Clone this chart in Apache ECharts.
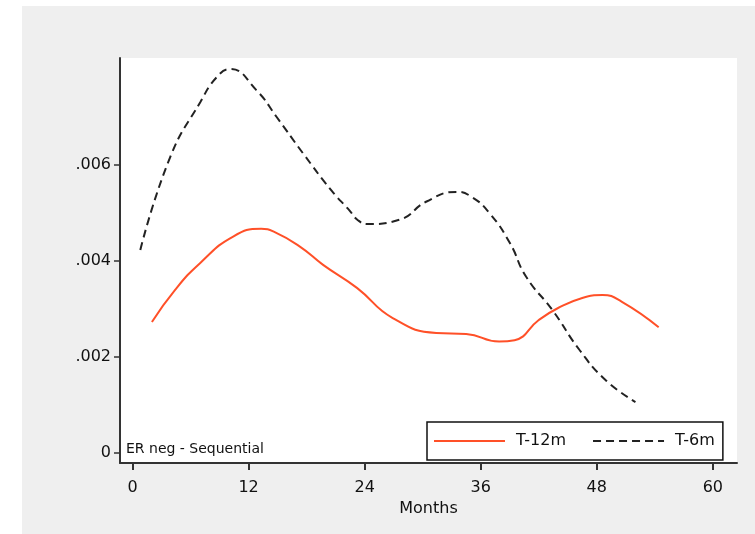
<!DOCTYPE html>
<html>
<head>
<meta charset="utf-8">
<script src="https://cdn.jsdelivr.net/npm/echarts@6/dist/echarts.min.js"></script>
<style>
html,body{margin:0;padding:0;background:#ffffff;}
#c{position:absolute;left:22px;top:6px;width:733px;height:528px;}
</style>
</head>
<body>
<div id="c"></div>
<script>
// Data
const monthsT12 = [2.0, 4.4, 7.0, 10.4, 13.3, 14.6, 17.3, 19.7, 23.2, 26.9, 31.4, 34.5, 37.9, 39.5, 42.0, 44.0, 46.5, 48.6, 50.6, 54.4];
const valuesT12 = [0.00273, 0.0034, 0.00396, 0.00451, 0.00467, 0.00461, 0.0043, 0.00392, 0.00344, 0.00281, 0.0025, 0.00248, 0.00232, 0.00235, 0.00277, 0.00302, 0.00323, 0.00329, 0.00315, 0.00262];
const monthsT6 = [0.8, 3.9, 7.0, 8.7, 10.1, 12.8, 14.9, 17.6, 20.6, 22.4, 23.3, 24.3, 27.6, 30.4, 33.5, 35.1, 36.9, 39.0, 40.7, 43.4, 46.2, 48.9, 52.0];
const valuesT6 = [0.00423, 0.00617, 0.00731, 0.00783, 0.008, 0.00756, 0.007, 0.00625, 0.00546, 0.00506, 0.00485, 0.00477, 0.00486, 0.00524, 0.00544, 0.00533, 0.005, 0.00438, 0.00367, 0.00298, 0.00215, 0.00152, 0.00106];
const xTicks = [0, 12, 24, 36, 48, 60];
const yTicks = [0, 0.002, 0.004, 0.006];
const yTickLabels = ['0', '.002', '.004', '.006'];
const seriesNames = ['T-12m', 'T-6m'];
const noteText = 'ER neg - Sequential';

const font = 'DejaVu Sans';
const chart = echarts.init(document.getElementById('c'), null, {renderer: 'canvas'});
const pair = (xs, ys) => xs.map((x, i) => [x, ys[i]]);

chart.setOption({
  backgroundColor: '#efefef',
  animation: false,
  grid: {left: 98, top: 52, right: 18, bottom: 71, show: true, backgroundColor: '#ffffff', borderWidth: 0},
  xAxis: {
    type: 'value', min: -1.3, max: 62.5,
    name: 'Months', nameLocation: 'middle', nameGap: 36,
    nameTextStyle: {fontFamily: font, fontSize: 16, color: '#111'},
    axisLine: {show: true, onZero: false, lineStyle: {color: '#333', width: 2}},
    axisTick: {show: true, customValues: xTicks, length: 7, lineStyle: {color: '#333', width: 2}},
    axisLabel: {customValues: xTicks, fontFamily: font, fontSize: 16, color: '#111', margin: 17},
    splitLine: {show: false}
  },
  yAxis: {
    type: 'value', min: -0.00021, max: 0.00823,
    axisLine: {show: true, onZero: false, lineStyle: {color: '#333', width: 2}},
    axisTick: {show: true, customValues: yTicks, length: 6, lineStyle: {color: '#333', width: 1.5}},
    axisLabel: {customValues: yTicks, fontFamily: font, fontSize: 16, color: '#111', margin: 9,
      formatter: v => { const i = yTicks.findIndex(t => Math.abs(t - v) < 1e-9); return i >= 0 ? yTickLabels[i] : ''; }},
    splitLine: {show: false}
  },
  legend: {
    left: 405, top: 416, width: 304,
    orient: 'horizontal',
    backgroundColor: '#ffffff', borderColor: '#111', borderWidth: 1.5, borderRadius: 0,
    padding: [11, 8, 11, 6], itemGap: 26, itemWidth: 71, itemHeight: 14,
    itemStyle: {opacity: 0},
    textStyle: {fontFamily: font, fontSize: 16, color: '#111', padding: [0, 0, 0, 6]},
    data: seriesNames
  },
  graphic: [{
    type: 'text', left: 104, top: 436,
    style: {text: noteText, fontFamily: font, fontSize: 14, fill: '#111'}
  }],
  series: [
    {name: seriesNames[0], type: 'line', data: pair(monthsT12, valuesT12), smooth: 0.5, showSymbol: false, symbol: 'none',
     lineStyle: {color: '#ff5028', width: 2}, itemStyle: {color: '#ff5028'}},
    {name: seriesNames[1], type: 'line', data: pair(monthsT6, valuesT6), smooth: 0.5, showSymbol: false, symbol: 'none',
     lineStyle: {color: '#222', width: 2, type: [8, 5]}, itemStyle: {color: '#222'}}
  ]
});
</script>
</body>
</html>
